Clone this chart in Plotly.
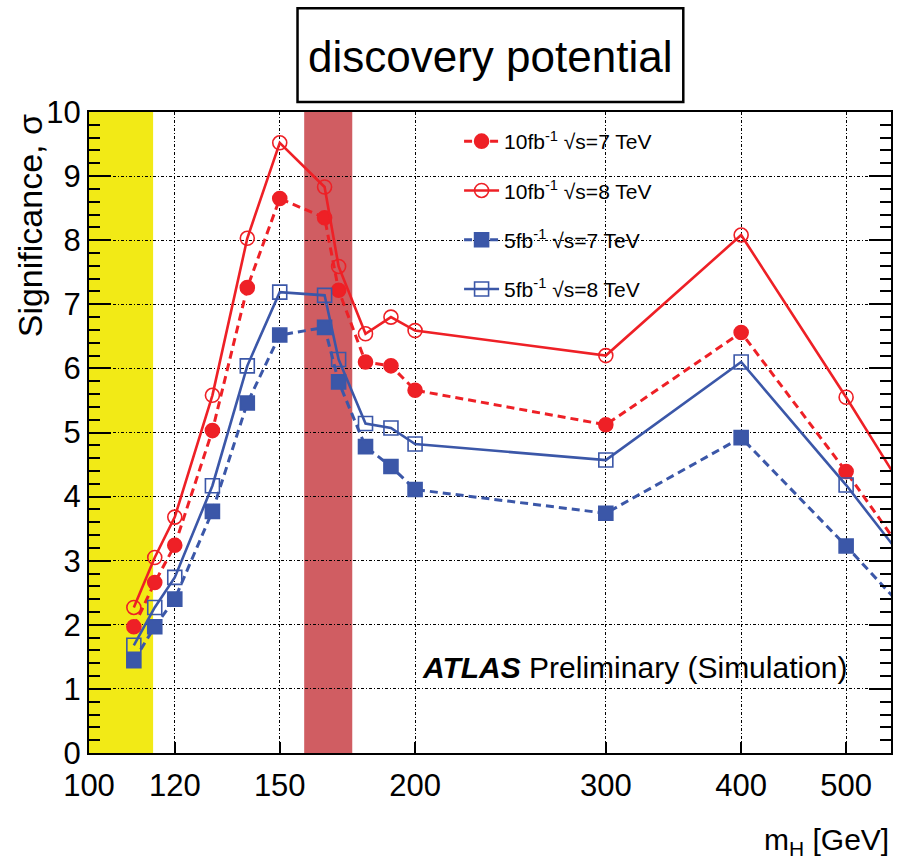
import plotly.graph_objects as go

# ---------------- data ----------------
mass = [110, 115, 120, 130, 140, 150, 165, 170, 180, 190, 200, 300, 400, 500, 600]
sig_10fb_7TeV = [1.97, 2.66, 3.24, 5.03, 7.26, 8.65, 8.35, 7.22, 6.10, 6.04, 5.66, 5.12, 6.56, 4.39, 2.50]
sig_10fb_8TeV = [2.27, 3.05, 3.68, 5.58, 8.03, 9.52, 8.83, 7.59, 6.54, 6.80, 6.59, 6.20, 8.08, 5.55, 3.40]
sig_5fb_7TeV = [1.44, 1.97, 2.40, 3.77, 5.46, 6.52, 6.64, 5.79, 4.78, 4.47, 4.11, 3.74, 4.92, 3.23, 1.78]
sig_5fb_8TeV = [1.68, 2.27, 2.74, 4.17, 6.04, 7.19, 7.14, 6.14, 5.14, 5.07, 4.82, 4.57, 6.10, 4.18, 2.46]

lep_excl = [100, 114.6]
tev_excl = [158, 175]

x_ticks = [100, 120, 150, 200, 300, 400, 500]
y_ticks = list(range(0, 11))

names = ["10fb<sup>-1</sup> √s=7 TeV", "10fb<sup>-1</sup> √s=8 TeV",
         "5fb<sup>-1</sup> √s=7 TeV", "5fb<sup>-1</sup> √s=8 TeV"]

RED = "#ee2026"
BLUE = "#3b57a8"
FONT = "Liberation Sans, Arial, Helvetica, sans-serif"

fig = go.Figure()

styles = [
    (sig_10fb_7TeV, RED, "8px,5px", "circle", RED),
    (sig_10fb_8TeV, RED, "solid", "circle-open", RED),
    (sig_5fb_7TeV, BLUE, "8px,5px", "square", BLUE),
    (sig_5fb_8TeV, BLUE, "solid", "square-open", BLUE),
]
for i, (vals, col, dash, sym, mcol) in enumerate(styles):
    fig.add_trace(go.Scatter(
        x=mass, y=vals, mode="lines+markers", name=names[i],
        legendgroup=f"g{i}",
        line=dict(color=col, width=2.6 if dash == "solid" else 3, dash=dash),
        marker=dict(symbol=sym, size=14, color=mcol,
                    line=dict(color=mcol, width=1.6)),
    ))

# exclusion bands
fig.add_shape(type="rect", xref="x", yref="paper", x0=lep_excl[0], x1=lep_excl[1],
              y0=0, y1=1, fillcolor="#f2ea16", line=dict(width=0), layer="below")
fig.add_shape(type="rect", xref="x", yref="paper", x0=tev_excl[0], x1=tev_excl[1],
              y0=0, y1=1, fillcolor="#d05d62", line=dict(width=0), layer="between")

# title box
fig.add_shape(type="rect", xref="paper", yref="paper", x0=0.26, x1=0.741,
              y0=1.0156, y1=1.162, line=dict(color="black", width=2.5),
              fillcolor="white")
fig.add_annotation(text="discovery potential", xref="paper", yref="paper",
                   x=0.5, y=1.086, xanchor="center", yanchor="middle",
                   showarrow=False, font=dict(family=FONT, size=44, color="black"))

# ATLAS label
fig.add_annotation(text="<b><i>ATLAS</i></b> Preliminary (Simulation)",
                   xref="paper", yref="paper", x=(421 - 89) / 804, y=(753 - 667) / 641,
                   xanchor="left", yanchor="middle", showarrow=False,
                   font=dict(family=FONT, size=30, color="black"))

# axis titles
fig.add_annotation(text="Significance, σ", xref="paper", yref="paper",
                   x=(30 - 89) / 804, y=0.999, xanchor="center", yanchor="top",
                   textangle=-90, showarrow=False,
                   font=dict(family=FONT, size=34, color="black"))
fig.add_annotation(text="m<sub>H</sub> [GeV]", xref="paper", yref="paper",
                   x=1.0, y=(753 - 862) / 641, xanchor="right", yanchor="bottom",
                   showarrow=False, font=dict(family=FONT, size=30, color="black"))

fig.update_layout(
    width=904, height=862,
    margin=dict(l=89, r=11, t=112, b=109),
    paper_bgcolor="white", plot_bgcolor="white",
    font=dict(family=FONT, color="black"),
    showlegend=True,
    legend=dict(x=(460 - 89) / 804, y=(753 - 121) / 641, xanchor="left", yanchor="top",
                bgcolor="rgba(0,0,0,0)", borderwidth=0,
                font=dict(family=FONT, size=21, color="black"),
                traceorder="grouped", tracegroupgap=19, itemwidth=35),
    xaxis=dict(type="log", range=[2, 2.7404], tickvals=x_ticks,
               ticktext=[str(v) for v in x_ticks],
               showgrid=True, gridcolor="black", gridwidth=1, griddash="3px,2px,1px,2px",
               ticks="inside", ticklen=11, tickwidth=1.5, tickcolor="black",
               ticklabelstandoff=4,
               showline=True, linecolor="black", linewidth=2, mirror=True,
               tickfont=dict(family=FONT, size=31, color="black"), zeroline=False),
    yaxis=dict(range=[0, 10], tickvals=y_ticks,
               showgrid=True, gridcolor="black", gridwidth=1, griddash="3px,2px,1px,2px",
               ticks="inside", ticklen=22, tickwidth=2, tickcolor="black",
               minor=dict(dtick=0.2, ticks="inside", ticklen=11, tickwidth=1.5,
                          tickcolor="black", showgrid=False),
               showline=True, linecolor="black", linewidth=2, mirror="allticks",
               tickfont=dict(family=FONT, size=31, color="black"), zeroline=False),
)

fig.write_html("out.html")
